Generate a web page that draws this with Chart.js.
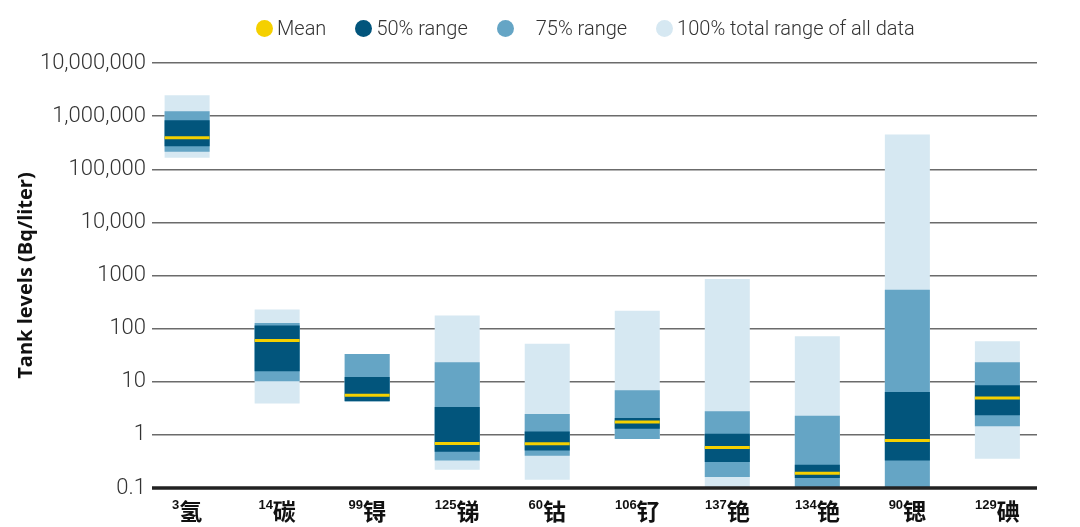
<!DOCTYPE html>
<html>
<head>
<meta charset="utf-8">
<script src="https://cdn.jsdelivr.net/npm/chart.js@4.4.1/dist/chart.umd.min.js"></script>
<style>
body{margin:0;background:#fff}
#wrap{position:relative;width:1080px;height:527px}
#legend{position:absolute;left:256px;top:16px;display:flex;align-items:center;font-family:Roboto,sans-serif;font-weight:300;font-size:20px;color:#333;line-height:24px}
#legend .item{display:flex;align-items:center;margin-right:29px}
#legend .dot{width:17px;height:17px;border-radius:50%;margin-right:4px}
#legend .item:nth-child(3) .dot{margin-right:22px}
</style>
</head>
<body>
<div id="wrap">
<canvas id="chart" width="1080" height="527"></canvas>
<div id="legend"></div>
</div>
<script>
// isotope mass numbers + element names (x labels)
const isotopes = ['3', '14', '99', '125', '60', '106', '137', '134', '90', '129']
const elements = ['氢', '碳', '锝', '锑', '钴', '钌', '铯', '铯', '锶', '碘']

// Bq/liter
const meanVals = [390000, 60, 5.6, 0.69, 0.68, 1.75, 0.58, 0.19, 0.78, 4.95]
const low50 = [271000, 15.7, 4.3, 0.48, 0.51, 1.31, 0.31, 0.154, 0.33, 2.33]
const high50 = [837000, 115, 12.3, 3.35, 1.16, 2.08, 1.05, 0.275, 6.4, 8.55]
const low75 = [213000, 10.2, 4.3, 0.33, 0.405, 0.84, 0.161, 0.1, 0.1, 1.45]
const high75 = [1240000, 128, 33.4, 23.2, 2.48, 6.9, 2.77, 2.3, 542, 23.2]
const low100 = [164000, 3.9, 4.3, 0.22, 0.143, 0.84, 0.1, 0.1, 0.1, 0.356]
const high100 = [2480000, 228, 33.4, 176, 52, 218, 863, 72, 450000, 58]

const yTicks = [0.1, 1, 10, 100, 1000, 10000, 100000, 1000000, 10000000]
const yTickLabels = ['0.1', '1', '10', '100', '1000', '10,000', '100,000', '1,000,000', '10,000,000']

const legendNames = ['Mean', '50% range', '75% range', '100% total range of all data']
const colors = ['#F5D000', '#02557C', '#65A5C5', '#D6E8F2']

function rangeData(lo, hi) {
    return lo.map((v, i) => ({x: i, y: [v, hi[i]]}))
}

function barSet(label, lo, hi, color, order) {
    return {
        type: 'bar',
        label: label,
        data: rangeData(lo, hi),
        backgroundColor: color,
        borderWidth: 0,
        grouped: false,
        barPercentage: 0.5,
        categoryPercentage: 1,
        order: order
    }
}

// x labels with superscript mass number, plus the heavy base line
const isoLabels = {
    id: 'isoLabels',
    afterDatasetsDraw(chart) {
        const ctx = chart.ctx, xs = chart.scales.x, ys = chart.scales.y, area = chart.chartArea
        const yb = ys.getPixelForValue(yTicks[0])
        ctx.save()
        ctx.strokeStyle = '#222'
        ctx.lineWidth = 3.5
        ctx.beginPath()
        ctx.moveTo(area.left, yb)
        ctx.lineTo(area.right, yb)
        ctx.stroke()

        ctx.fillStyle = '#111'
        elements.forEach((el, i) => {
            const cx = xs.getPixelForValue(i)
            ctx.font = 'bold 13px "Liberation Sans", Arial, sans-serif'
            const w1 = ctx.measureText(isotopes[i]).width
            ctx.font = 'bold 23px "Noto Sans CJK SC", sans-serif'
            const w2 = ctx.measureText(el).width
            let x0 = cx - (w1 + w2) / 2
            ctx.textAlign = 'left'
            ctx.textBaseline = 'alphabetic'
            ctx.font = 'bold 13px "Liberation Sans", Arial, sans-serif'
            ctx.fillText(isotopes[i], x0, 509)
            ctx.font = 'bold 23px "Noto Sans CJK SC", sans-serif'
            ctx.textBaseline = 'middle'
            ctx.fillText(el, x0 + w1, 511)
        })
        ctx.restore()
    }
}

const ctx = document.getElementById('chart').getContext('2d')
const chart = new Chart(ctx, {
    data: {
        datasets: [
            {
                type: 'line',
                label: legendNames[0],
                data: meanVals.map((v, i) => ({x: i, y: v})),
                showLine: false,
                pointStyle: 'line',
                pointRadius: 22.5,
                pointBorderWidth: 3,
                pointBorderColor: colors[0],
                borderColor: colors[0],
                order: 0
            },
            barSet(legendNames[1], low50, high50, colors[1], 1),
            barSet(legendNames[2], low75, high75, colors[2], 2),
            barSet(legendNames[3], low100, high100, colors[3], 3)
        ]
    },
    options: {
        responsive: false,
        animation: false,
        events: [],
        layout: {padding: {left: 0, right: 43, top: 63, bottom: 39}},
        plugins: {legend: {display: false}, tooltip: {enabled: false}},
        scales: {
            x: {
                type: 'linear',
                display: false,
                offset: false,
                min: -0.39,
                max: 9.44,
                grid: {offset: false},
                ticks: {stepSize: 1, includeBounds: false}
            },
            y: {
                type: 'logarithmic',
                min: 0.1,
                max: 10000000,
                afterBuildTicks: (scale) => { scale.ticks = yTicks.map(v => ({value: v})) },
                afterFit: (scale) => { scale.width = 152 },
                border: {display: false},
                grid: {
                    color: (c) => c.tick && c.tick.value === yTicks[0] ? 'rgba(0,0,0,0)' : '#6b6b6b',
                    lineWidth: 1.5,
                    drawTicks: false
                },
                ticks: {
                    padding: 6,
                    color: '#333',
                    font: {family: 'Roboto', size: 22, weight: 300},
                    callback: (v) => {
                        const k = yTicks.indexOf(v)
                        return k >= 0 ? yTickLabels[k] : ''
                    }
                },
                title: {
                    display: true,
                    text: 'Tank levels (Bq/liter)',
                    color: '#111',
                    font: {family: 'Open Sans', size: 20, weight: 'bold'},
                    padding: {top: 14, bottom: 0}
                }
            }
        }
    },
    plugins: [isoLabels]
})

// html legend from the same names/colours
var html = ''
legendNames.forEach((n, i) => {
    html += '<div class="item"><span class="dot" style="background:' + colors[i] + '"></span><span>' + n + '</span></div>'
})
document.getElementById('legend').innerHTML = html
</script>
</body>
</html>
